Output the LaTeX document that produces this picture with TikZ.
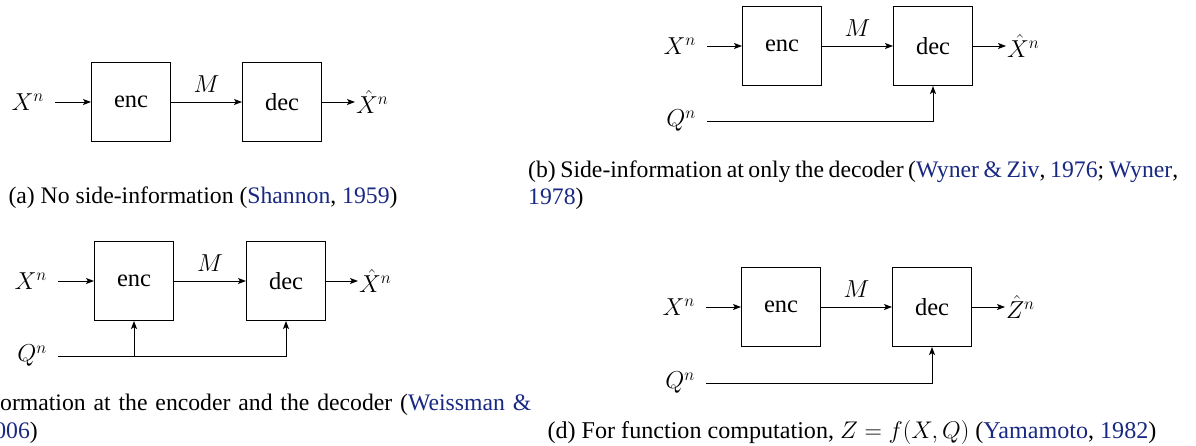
\RequirePackage{fix-cm}
\documentclass[tikz,border=0pt]{standalone}
\usepackage[no-math]{fontspec}
\setmainfont{Liberation Serif}
\usetikzlibrary{arrows.meta}
\definecolor{citeblue}{RGB}{25,40,130}
\newcommand{\cb}[1]{\textcolor{citeblue}{#1}}
\begin{document}
\begin{tikzpicture}[x=1pt,y=-1pt,
  dfont/.style={font=\fontsize{24.5}{29}\selectfont},
  blk/.style={draw, line width=1pt, minimum width=79pt, minimum height=79pt, inner sep=0pt, dfont},
  lbl/.style={inner sep=0pt, outer sep=11pt, dfont},
  outl/.style={inner sep=0pt, outer sep=1pt, dfont},
  msg/.style={inner sep=9pt, dfont},
  conn/.style={line width=1pt, -{Stealth[length=8pt,width=6pt,inset=1.8pt]}},
  capt/.style={inner sep=0pt, font=\fontsize{23.7}{28}\selectfont},
]
\path[use as bounding box, clip] (0,0) rectangle (1196,445);

% (a)
\node[blk] (encA) at (131,102) {enc};
\node[blk] (decA) at (282,102) {dec};
\node[lbl, anchor=east] (xA) at (55,102) {$X^n$};
\node[outl, anchor=west] (yA) at (355,102) {$\hat{X}^n$};
\draw[conn] (xA.east) -- (encA.west);
\draw[conn] (encA.east) -- node[msg, above] (mA) {$M$} (decA.west);
\draw[conn] (decA.east) -- (yA.west);
\node[capt, anchor=base] (capA) at (203,203) {(a) No side-information (\cb{Shannon}, \cb{1959})};

% (b)
\node[blk] (encB) at (782,46) {enc};
\node[blk] (decB) at (933,46) {dec};
\node[lbl, anchor=east] (xB) at (707,46) {$X^n$};
\node[lbl, anchor=east] (qB) at (707,121) {$Q^n$};
\node[outl, anchor=west] (yB) at (1006,46) {$\hat{X}^n$};
\draw[conn] (xB.east) -- (encB.west);
\draw[conn] (encB.east) -- node[msg, above] (mB) {$M$} (decB.west);
\draw[conn] (decB.east) -- (yB.west);
\draw[conn] (qB.east) -| (decB.south);
\node[capt, anchor=base west] (capB1) at (528,177) {\makebox[650pt][s]{(b) Side-information at only the decoder (\cb{Wyner \& Ziv}, \cb{1976}; \cb{Wyner},}};
\node[capt, anchor=base west] (capB2) at (528,204) {\cb{1978})};

% (c)
\node[blk] (encC) at (134,281) {enc};
\node[blk] (decC) at (286,281) {dec};
\node[lbl, anchor=east] (xC) at (58,281) {$X^n$};
\node[lbl, anchor=east] (qC) at (58,356) {$Q^n$};
\node[outl, anchor=west] (yC) at (358,281) {$\hat{X}^n$};
\draw[conn] (xC.east) -- (encC.west);
\draw[conn] (encC.east) -- node[msg, above] (mC) {$M$} (decC.west);
\draw[conn] (decC.east) -- (yC.west);
\draw[conn] (qC.east) -| (encC.south);
\draw[conn] (qC.east) -| (decC.south);
\node[capt, anchor=base west] (capC1) at (0,410) {\makebox[531pt][s]{ormation at the encoder and the decoder (\cb{Weissman \&}}};
\node[capt, anchor=base east] (capC2) at (38,438) {\cb{006})};

% (d)
\node[blk] (encD) at (781,307) {enc};
\node[blk] (decD) at (932,307) {dec};
\node[lbl, anchor=east] (xD) at (706,307) {$X^n$};
\node[lbl, anchor=east] (qD) at (706,383) {$Q^n$};
\node[outl, anchor=west] (yD) at (1005,307) {$\hat{Z}^n$};
\draw[conn] (xD.east) -- (encD.west);
\draw[conn] (encD.east) -- node[msg, above] (mD) {$M$} (decD.west);
\draw[conn] (decD.east) -- (yD.west);
\draw[conn] (qD.east) -| (decD.south);
\node[capt, anchor=base, font=\fontsize{24.1}{28}\selectfont] (capD) at (852,438) {(d) For function computation, $Z = f(X,Q)$ (\cb{Yamamoto}, \cb{1982})};
\end{tikzpicture}
\end{document}
